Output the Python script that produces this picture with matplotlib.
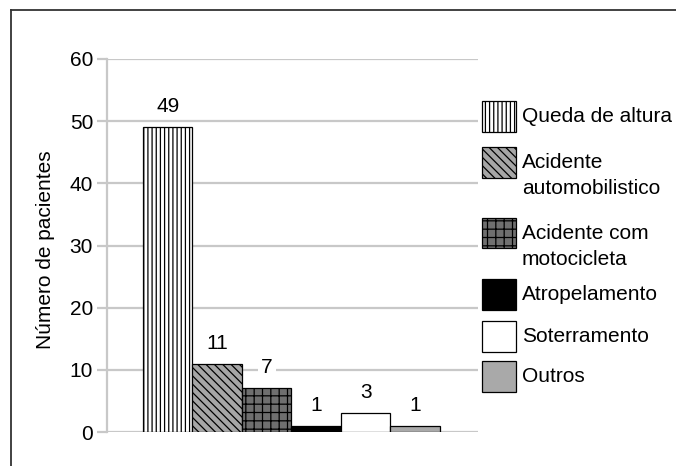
import matplotlib
matplotlib.use("Agg")
import matplotlib.pyplot as plt
from matplotlib.patches import Rectangle
from matplotlib.lines import Line2D

# ---- data ----
categories = ["Queda de altura", "Acidente\nautomobilistico", "Acidente com\nmotocicleta",
              "Atropelamento", "Soterramento", "Outros"]
values = [49, 11, 7, 1, 3, 1]
yticks = [0, 10, 20, 30, 40, 50, 60]
ylabel = "Número de pacientes"

# ---- styles ----
facecolors = ["white", "#a6a6a6", "#6f6f6f", "black", "white", "#a9a9a9"]
hatches = ["||||", "\\\\\\\\", "++", None, None, None]

plt.rcParams['font.family'] = ['Liberation Sans', 'DejaVu Sans']
plt.rcParams['hatch.linewidth'] = 0.9
FS = 15

W, H = 676, 466
fig = plt.figure(figsize=(W / 100, H / 100), dpi=100)

def fx(x):
    return x / W

def fy(y):
    return 1 - y / H

ax = fig.add_axes([fx(107), fy(432), fx(478) - fx(107), fy(59) - fy(432)])

xs = list(range(len(values)))
for i, (v, fc, h) in enumerate(zip(values, facecolors, hatches)):
    ax.bar(xs[i], v, width=1.0, color=fc, edgecolor="black", linewidth=0.9,
           hatch=h, zorder=3)
    ax.annotate(str(v), (xs[i], v), xytext=(0, 8), textcoords="offset points",
                ha="center", va="bottom", fontsize=FS, zorder=4,
                bbox=dict(boxstyle="square,pad=0.15", fc="white", ec="none"))

ax.set_xlim(-1.227, 6.27)
ax.set_ylim(0, 60)
ax.set_yticks(yticks)
ax.set_xticks([])
ax.yaxis.grid(True, color="#c8c8c8", linewidth=1.6, zorder=0)
ax.set_axisbelow(True)
for s in ["top", "right", "bottom"]:
    ax.spines[s].set_visible(False)
ax.spines["left"].set_color("#c8c8c8")
ax.spines["left"].set_linewidth(1.6)
ax.tick_params(axis="y", length=7, width=1.6, color="#c8c8c8", pad=3,
               labelsize=FS, labelcolor="black")
ax.set_ylabel(ylabel, fontsize=FS)
ax.yaxis.set_label_coords(-0.167, 0.488)
ax.yaxis.label.set_va("center")

# ---- legend drawn manually ----
leg_centers = [116, 162, 233, 294, 336, 376]
LINE_STEP = 26
for lab, fc, h, yc in zip(categories, facecolors, hatches, leg_centers):
    r = Rectangle((fx(482), fy(yc + 15.5)), fx(516) - fx(482), fy(yc - 15.5) - fy(yc + 15.5),
                  transform=fig.transFigure, facecolor=fc, edgecolor="black",
                  linewidth=0.9, hatch=h)
    fig.add_artist(r)
    for k, line in enumerate(lab.split("\n")):
        fig.text(fx(522), fy(yc + 6 + k * LINE_STEP), line, fontsize=FS,
                 ha="left", va="baseline")

# ---- outer frame (partial) ----
fig.add_artist(Line2D([fx(11), fx(11)], [fy(10), 0], transform=fig.transFigure,
                      color="#333333", linewidth=1.3))
fig.add_artist(Line2D([fx(11), 1], [fy(10), fy(10)], transform=fig.transFigure,
                      color="#333333", linewidth=1.3))

fig.savefig("out.png", dpi=100)
